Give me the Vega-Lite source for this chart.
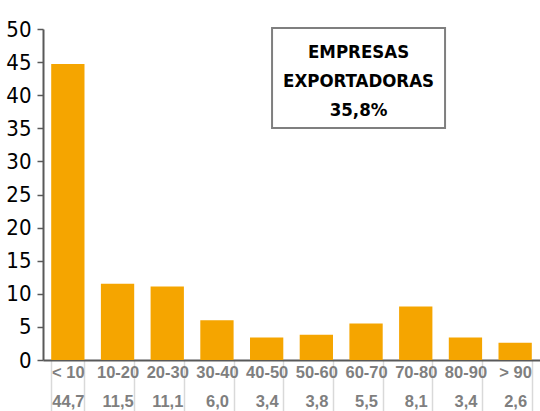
{
  "$schema": "https://vega.github.io/schema/vega-lite/v6.json",
  "width": 497,
  "height": 331,
  "autosize": {"type": "none"},
  "padding": {"left": 43, "top": 29, "right": 0, "bottom": 51},
  "background": "white",
  "config": {
    "view": {"stroke": null},
    "axisX": {
      "title": null,
      "labelFont": "Liberation Sans",
      "labelFontWeight": "bold",
      "labelFontSize": 16.5,
      "labelColor": "#7f7f7f",
      "labelLineHeight": 29,
      "labelAngle": 0,
      "labelPadding": -47,
      "labelOverlap": false,
      "labelBound": false,
      "tickSize": 51,
      "tickBand": "extent",
      "tickColor": "#d9d9d9",
      "tickWidth": 1.5,
      "domainColor": "#595959",
      "domainWidth": 2
    },
    "axisY": {
      "title": null,
      "labelOverlap": false,
      "grid": false,
      "domainColor": "#595959",
      "domainWidth": 2,
      "tickColor": "#595959",
      "tickWidth": 1.5,
      "tickSize": 6,
      "labelPadding": 6,
      "labelFont": "DejaVu Sans Condensed",
      "labelFontSize": 22,
      "labelColor": "black",
      "labelFlush": false
    }
  },
  "datasets": {
    "bars": [
      {"label": "< 10|44,7", "value": 44.7},
      {"label": "10-20|11,5", "value": 11.5},
      {"label": "20-30|11,1", "value": 11.1},
      {"label": "30-40|6,0", "value": 6.0},
      {"label": "40-50|3,4", "value": 3.4},
      {"label": "50-60|3,8", "value": 3.8},
      {"label": "60-70|5,5", "value": 5.5},
      {"label": "70-80|8,1", "value": 8.1},
      {"label": "80-90|3,4", "value": 3.4},
      {"label": "> 90|2,6", "value": 2.6}
    ],
    "box": [
      {"label": "60-70|5,5", "value": 42.6}
    ],
    "note": [
      {"label": "60-70|5,5", "value": 46.5, "text": "EMPRESAS\nEXPORTADORAS\n35,8%"}
    ]
  },
  "encoding": {
    "x": {
      "field": "label",
      "type": "nominal",
      "sort": null,
      "scale": {"paddingInner": 0.33, "paddingOuter": 0.165},
      "axis": {"title": null, "labelExpr": "split(datum.label, '|')"}
    },
    "y": {
      "field": "value",
      "type": "quantitative",
      "scale": {"domain": [0, 50], "nice": false},
      "axis": {"title": null, "values": [0, 5, 10, 15, 20, 25, 30, 35, 40, 45, 50], "labelOverlap": false}
    }
  },
  "layer": [
    {
      "data": {"name": "bars"},
      "mark": {"type": "bar", "color": "#F5A500"}
    },
    {
      "data": {"name": "box"},
      "mark": {
        "type": "point",
        "shape": "M-1,-0.578L1,-0.578L1,0.578L-1,0.578Z",
        "size": 29929,
        "filled": true,
        "color": "white",
        "stroke": "#7f7f7f",
        "strokeWidth": 2,
        "opacity": 1,
        "xOffset": -7.5
      }
    },
    {
      "data": {"name": "note"},
      "mark": {
        "type": "text",
        "lineBreak": "\n",
        "lineHeight": 29,
        "font": "DejaVu Sans Condensed",
        "fontWeight": "bold",
        "fontSize": 18.5,
        "color": "black",
        "align": "center",
        "baseline": "middle",
        "xOffset": -7.5
      },
      "encoding": {
        "text": {"field": "text"}
      }
    }
  ]
}
